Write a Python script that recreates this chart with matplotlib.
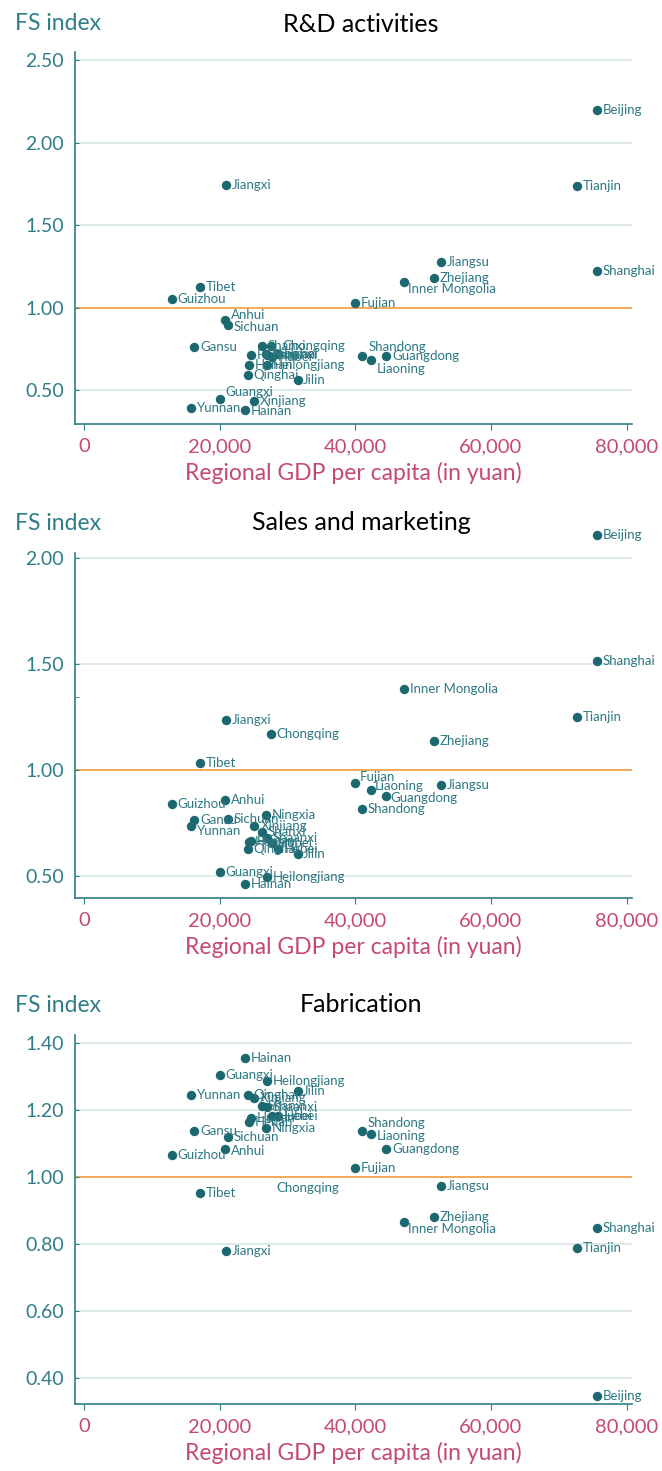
import matplotlib
matplotlib.use("Agg")
import matplotlib.pyplot as plt
from matplotlib.ticker import FuncFormatter

# ---- data -------------------------------------------------------------
provinces = [
    "Beijing", "Tianjin", "Hebei", "Shanxi", "Inner Mongolia", "Liaoning",
    "Jilin", "Heilongjiang", "Shanghai", "Jiangsu", "Zhejiang", "Anhui",
    "Fujian", "Jiangxi", "Shandong", "Henan", "Hubei", "Hunan", "Guangdong",
    "Guangxi", "Hainan", "Chongqing", "Sichuan", "Guizhou", "Yunnan", "Tibet",
    "Shaanxi", "Gansu", "Qinghai", "Ningxia", "Xinjiang",
]

gdp_per_capita = [
    75700, 72700, 28600, 26300, 47200, 42300,
    31500, 27000, 75700, 52700, 51600, 20800,
    40000, 21000, 41000, 24400, 27800, 24600, 44600,
    20100, 23800, 27600, 21300, 13000, 15800, 17100,
    27000, 16300, 24200, 26900, 25100,
]

rd_index = [
    2.20, 1.735, 0.72, 0.767, 1.155, 0.681,
    0.564, 0.655, 1.223, 1.279, 1.183, 0.928,
    1.030, 1.741, 0.707, 0.655, 0.70, 0.715, 0.707,
    0.448, 0.380, 0.767, 0.896, 1.054, 0.393, 1.127,
    0.715, 0.761, 0.590, 0.72, 0.434,
]

sales_index = [
    2.109, 1.248, 0.626, 0.706, 1.380, 0.906,
    0.604, 0.494, 1.513, 0.929, 1.139, 0.858,
    0.937, 1.238, 0.815, 0.659, 0.654, 0.665, 0.879,
    0.519, 0.462, 1.172, 0.767, 0.840, 0.737, 1.035,
    0.678, 0.764, 0.626, 0.788, 0.737,
]

fab_index = [
    0.346, 0.789, 1.181, 1.212, 0.865, 1.128,
    1.258, 1.286, 0.849, 0.974, 0.881, 1.084,
    1.026, 0.780, 1.137, 1.164, 1.181, 1.175, 1.085,
    1.304, 1.356, 0.966, 1.118, 1.067, 1.246, 0.951,
    1.209, 1.137, 1.246, 1.146, 1.237,
]

panel_titles = ["R&D activities", "Sales and marketing", "Fabrication"]
x_ticks = [0, 20000, 40000, 60000, 80000]
y_ticks = [
    [0.50, 1.00, 1.50, 2.00, 2.50],
    [0.50, 1.00, 1.50, 2.00],
    [0.40, 0.60, 0.80, 1.00, 1.20, 1.40],
]
y_minor = [[], [1.345], []]

# ---- style ------------------------------------------------------------
plt.rcParams["font.family"] = ["Lato", "DejaVu Sans"]

DOT = "#1c6871"
LABEL = "#2d7882"
TEAL = "#2f7d88"
PINK = "#c44a6f"
GRID = "#dbe7e9"
ORANGE = "#f3a24a"

W, H = 662, 1471
fig = plt.figure(figsize=(W / 100, H / 100), dpi=100)

# axes boxes in pixels: left, top, right, bottom
boxes = [(75, 52, 632, 424), (75, 553, 632, 898), (75, 1035, 632, 1404)]
ylims = [(0.295, 2.55), (0.396, 2.024), (0.322, 1.424)]
title_y = [24, 523, 1005]

# label offsets (points) where the default does not fit
default_off = (4, 0)
offsets = [
    {"Shandong": (5, 6.5), "Liaoning": (4, -6), "Inner Mongolia": (3, -5),
     "Guangxi": (4, 5), "Anhui": (4, 3.5), "Sichuan": (4, -1.5),
     "Chongqing": (8, 0), "Hainan": (4, -1)},
    {"Fujian": (3, 4.5), "Liaoning": (3, 3), "Guangdong": (3, -1.5),
     "Yunnan": (4, -4), "Xinjiang": (5, 0)},
    {"Shandong": (4, 6), "Liaoning": (4, -1.5), "Inner Mongolia": (3, -5),
     "Anhui": (4, -1.5)},
]
hidden_dots = [set(), set(), {"Chongqing"}]

series = [rd_index, sales_index, fab_index]

for i, values in enumerate(series):
    left, top, right, bottom = boxes[i]
    ax = fig.add_axes([left / W, 1 - bottom / H, (right - left) / W, (bottom - top) / H])
    ax.set_xlim(-1300, 80800)
    ax.set_ylim(*ylims[i])

    for s in ["top", "right"]:
        ax.spines[s].set_visible(False)
    for s in ["left", "bottom"]:
        ax.spines[s].set_color(TEAL)
        ax.spines[s].set_linewidth(1.2)

    ax.set_yticks(y_ticks[i])
    ax.set_yticks(y_minor[i], minor=True)
    ax.yaxis.set_major_formatter(FuncFormatter(lambda v, p: f"{v:.2f}"))
    ax.set_xticks(x_ticks)
    ax.xaxis.set_major_formatter(FuncFormatter(lambda v, p: f"{int(v):,}"))
    ax.tick_params(axis="y", which="both", colors=TEAL, labelsize=14, length=3,
                   direction="in", pad=8)
    ax.tick_params(axis="x", colors=TEAL, labelcolor=PINK, labelsize=14.5, length=4, pad=6)

    for yt in y_ticks[i]:
        if abs(yt - 1.0) > 1e-9:
            ax.axhline(yt, color=GRID, lw=1.3, zorder=0)
    ax.axhline(1.0, color=ORANGE, lw=1.3, zorder=1)

    xs = [g for g, p in zip(gdp_per_capita, provinces) if p not in hidden_dots[i]]
    ys = [v for v, p in zip(values, provinces) if p not in hidden_dots[i]]
    ax.scatter(xs, ys, s=46, color=DOT, zorder=3, clip_on=False, linewidths=0)

    for name, x, y in zip(provinces, gdp_per_capita, values):
        dx, dy = offsets[i].get(name, default_off)
        ax.annotate(name, (x, y), xytext=(dx, dy), textcoords="offset points",
                    fontsize=9.5, color=LABEL, va="center", ha="left",
                    zorder=4, annotation_clip=False)

    ax.set_xlabel("Regional GDP per capita (in yuan)", color=PINK, fontsize=16.5, labelpad=5)

    fig.text(15 / W, 1 - title_y[i] / H, "FS index", color=TEAL, fontsize=16.5,
             ha="left", va="center")
    fig.text(361 / W, 1 - title_y[i] / H, panel_titles[i], color="black", fontsize=18,
             ha="center", va="center")

fig.savefig("out.png", dpi=100)
